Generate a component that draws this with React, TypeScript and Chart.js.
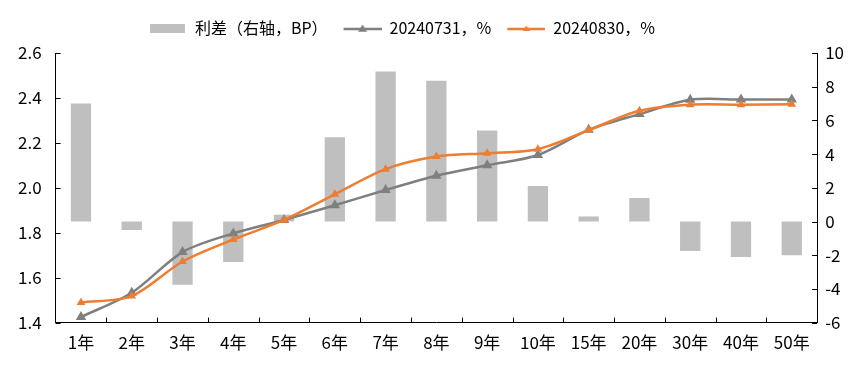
import React, { useEffect, useRef } from "react";
import { Chart, registerables } from "chart.js";

Chart.register(...registerables);

const categories = ["1年", "2年", "3年", "4年", "5年", "6年", "7年", "8年", "9年", "10年", "15年", "20年", "30年", "40年", "50年"];
const spreadBP = [7.0, -0.5, -3.75, -2.4, 0.4, 5.0, 8.9, 8.35, 5.4, 2.1, 0.3, 1.4, -1.75, -2.1, -2.0];
const yield0731 = [1.425, 1.533, 1.714, 1.797, 1.857, 1.922, 1.99, 2.054, 2.1, 2.146, 2.258, 2.328, 2.392, 2.393, 2.393];
const yield0830 = [1.49, 1.518, 1.672, 1.77, 1.857, 1.971, 2.083, 2.139, 2.154, 2.172, 2.257, 2.343, 2.37, 2.37, 2.372];
const labelBar = "利差（右轴，BP）";
const label0731 = "20240731，%";
const label0830 = "20240830，%";

const GRAY_BAR = "#BFBFBF";
const GRAY_LINE = "#7F7F7F";
const ORANGE = "#ED7D31";
const FONT = "'Noto Sans CJK SC', 'Noto Sans', sans-serif";
const ICON_W = 42;

function makeBarIcon() {
  const c = document.createElement("canvas");
  c.width = ICON_W;
  c.height = 10;
  const ctx = c.getContext("2d")!;
  ctx.fillStyle = GRAY_BAR;
  ctx.fillRect(ICON_W - 37, 1, 35, 9);
  return c;
}

function makeLineIcon(color: string, tri: number) {
  const c = document.createElement("canvas");
  c.width = ICON_W;
  c.height = 14;
  const ctx = c.getContext("2d")!;
  const x0 = ICON_W - 38;
  ctx.strokeStyle = color;
  ctx.lineWidth = 2.5;
  ctx.beginPath();
  ctx.moveTo(x0, 8);
  ctx.lineTo(ICON_W, 8);
  ctx.stroke();
  ctx.fillStyle = color;
  const cx = x0 + 19;
  ctx.beginPath();
  ctx.moveTo(cx, 8 - tri);
  ctx.lineTo(cx + tri, 8 + tri * 0.6);
  ctx.lineTo(cx - tri, 8 + tri * 0.6);
  ctx.closePath();
  ctx.fill();
  return c;
}

const legendOffset = {
  id: "legendOffset",
  afterLayout(chart: any) {
    const lg = chart.legend;
    if (!lg) return;
    lg.top -= 7;
    lg.bottom -= 7;
    lg.left -= 28;
    lg.right -= 28;
  },
};

const innerTicks = {
  id: "innerTicks",
  afterDatasetsDraw(chart: any) {
    const { ctx, chartArea } = chart;
    const len = 5;
    ctx.save();
    ctx.strokeStyle = "#000";
    ctx.lineWidth = 1;
    ctx.beginPath();
    const y = chart.scales.y;
    y.ticks.forEach((_: any, i: number) => {
      const py = Math.round(y.getPixelForTick(i)) + 0.5;
      ctx.moveTo(chartArea.left, py);
      ctx.lineTo(chartArea.left + len, py);
    });
    const y1 = chart.scales.y1;
    y1.ticks.forEach((_: any, i: number) => {
      const py = Math.round(y1.getPixelForTick(i)) + 0.5;
      ctx.moveTo(chartArea.right - len, py);
      ctx.lineTo(chartArea.right, py);
    });
    const x = chart.scales.x;
    for (let i = 1; i < categories.length; i++) {
      const px = Math.round(x.getPixelForValue(i - 0.5)) + 0.5;
      ctx.moveTo(px, chartArea.bottom);
      ctx.lineTo(px, chartArea.bottom - len);
    }
    ctx.stroke();
    ctx.restore();
  },
};

export default function App() {
  const ref = useRef<HTMLCanvasElement>(null);
  useEffect(() => {
    document.body.style.margin = "0";
    const icons = [makeBarIcon(), makeLineIcon(GRAY_LINE, 4.5), makeLineIcon(ORANGE, 3.5)];
    const chart = new Chart(ref.current!, {
      type: "bar",
      plugins: [legendOffset, innerTicks],
      data: {
        labels: categories,
        datasets: [
          {
            type: "bar",
            label: labelBar,
            data: spreadBP,
            backgroundColor: GRAY_BAR,
            yAxisID: "y1",
            categoryPercentage: 1,
            barPercentage: 0.4,
            order: 3,
          },
          {
            type: "line",
            label: label0731,
            data: yield0731,
            borderColor: GRAY_LINE,
            backgroundColor: GRAY_LINE,
            borderWidth: 2.5,
            pointStyle: "triangle",
            pointRadius: 6,
            pointBorderWidth: 0,
            tension: 0.3,
            yAxisID: "y",
            order: 2,
          },
          {
            type: "line",
            label: label0830,
            data: yield0830,
            borderColor: ORANGE,
            backgroundColor: ORANGE,
            borderWidth: 2.5,
            pointStyle: "triangle",
            pointRadius: 5,
            pointBorderWidth: 0,
            tension: 0.3,
            yAxisID: "y",
            order: 1,
          },
        ],
      },
      options: {
        animation: false,
        responsive: true,
        maintainAspectRatio: false,
        layout: { padding: { top: 15, left: 4, right: 11, bottom: 2 } },
        plugins: {
          tooltip: { enabled: false },
          legend: {
            position: "top",
            align: "center",
            labels: {
              usePointStyle: true,
              pointStyleWidth: ICON_W,
              padding: 12,
              color: "#000",
              font: { family: FONT, size: 16 },
              generateLabels: (ch: any) =>
                ch.data.datasets.map((ds: any, i: number) => ({
                  text: ds.label,
                  pointStyle: icons[i],
                  fillStyle: "transparent",
                  strokeStyle: "transparent",
                  lineWidth: 0,
                  hidden: false,
                  datasetIndex: i,
                  fontColor: "#000",
                })),
            },
          },
        },
        scales: {
          x: {
            offset: true,
            grid: { display: false, drawTicks: false },
            border: { color: "#000", width: 1 },
            ticks: { color: "#000", font: { family: FONT, size: 17 }, padding: 10, maxRotation: 0 },
          },
          y: {
            position: "left",
            min: 1.4,
            max: 2.6,
            grid: { display: false, drawTicks: false },
            border: { color: "#000", width: 1 },
            ticks: {
              stepSize: 0.2,
              color: "#000",
              padding: 14,
              font: { family: FONT, size: 17 },
              callback: (v: any) => Number(v).toFixed(1),
            },
          },
          y1: {
            position: "right",
            min: -6,
            max: 10,
            grid: { display: false, drawTicks: false },
            border: { color: "#000", width: 1 },
            ticks: { stepSize: 2, color: "#000", padding: 8, font: { family: FONT, size: 17 } },
          },
        },
      },
    });
    return () => chart.destroy();
  }, []);
  return (
    <div style={{ width: "863px", height: "365px" }}>
      <canvas ref={ref} />
    </div>
  );
}
